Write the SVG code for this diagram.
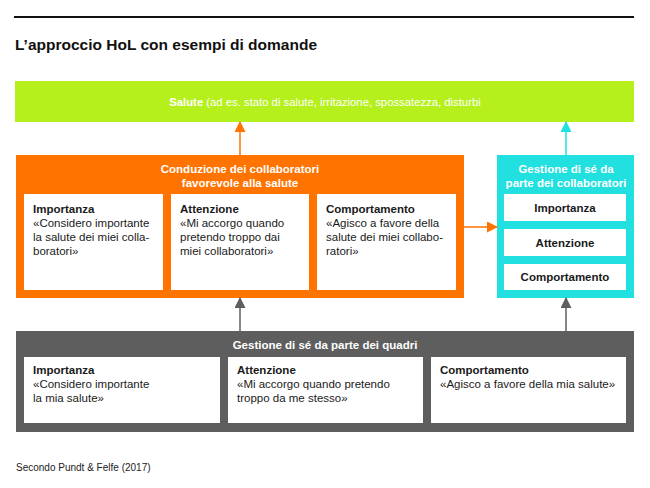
<svg xmlns="http://www.w3.org/2000/svg" width="650" height="488" viewBox="0 0 650 488">
<style>
text{font-family:"Liberation Sans",Arial,sans-serif;}
.t{font-size:11.5px;fill:#1a1a1a;}
.b{font-weight:bold;}
.w{fill:#ffffff;font-size:11.5px;}
.box{fill:#ffffff;}
</style>
<defs>
<marker id="ao" markerWidth="11" markerHeight="11" refX="10" refY="5.5" orient="auto" markerUnits="userSpaceOnUse"><path d="M0,0 L11,5.5 L0,11 z" fill="#ff7300"/></marker>
<marker id="ac" markerWidth="11" markerHeight="11" refX="10" refY="5.5" orient="auto" markerUnits="userSpaceOnUse"><path d="M0,0 L11,5.5 L0,11 z" fill="#22e0e0"/></marker>
<marker id="ag" markerWidth="11" markerHeight="11" refX="10" refY="5.5" orient="auto" markerUnits="userSpaceOnUse"><path d="M0,0 L11,5.5 L0,11 z" fill="#5e5e5e"/></marker>
</defs>
<rect width="650" height="488" fill="#ffffff"/>
<line x1="14" y1="17" x2="634" y2="17" stroke="#111" stroke-width="2"/>
<text x="15" y="50" style="font-size:15.5px;font-weight:bold;fill:#111">L’approccio HoL con esempi di domande</text>

<g id="salute">
<rect x="15" y="81" width="619" height="41" fill="#b5ef1c"/>
<text x="325" y="106" text-anchor="middle" class="w" style="font-size:11.3px"><tspan class="b">Salute</tspan> (ad es. stato di salute, irritazione, spossatezza, disturbi</text>
</g>

<g id="conduzione">
<rect x="16" y="155" width="448" height="143" fill="#ff7300"/>
<text x="240" y="173" text-anchor="middle" class="w b">Conduzione dei collaboratori</text>
<text x="240" y="187" text-anchor="middle" class="w b">favorevole alla salute</text>
<rect class="box" x="24" y="194" width="139" height="96"/>
<text class="t" x="33" y="213"><tspan class="b">Importanza</tspan><tspan x="33" dy="14">«Considero importante</tspan><tspan x="33" dy="14">la salute dei miei colla-</tspan><tspan x="33" dy="14">boratori»</tspan></text>
<rect class="box" x="171" y="194" width="138" height="96"/>
<text class="t" x="180" y="213"><tspan class="b">Attenzione</tspan><tspan x="180" dy="14">«Mi accorgo quando</tspan><tspan x="180" dy="14">pretendo troppo dai</tspan><tspan x="180" dy="14">miei collaboratori»</tspan></text>
<rect class="box" x="317" y="194" width="139" height="96"/>
<text class="t" x="326" y="213"><tspan class="b">Comportamento</tspan><tspan x="326" dy="14">«Agisco a favore della</tspan><tspan x="326" dy="14">salute dei miei collabo-</tspan><tspan x="326" dy="14">ratori»</tspan></text>
</g>

<g id="collaboratori">
<rect x="497" y="155" width="137" height="143" fill="#22e0e0"/>
<text x="566" y="173" text-anchor="middle" class="w b">Gestione di sé da</text>
<text x="566" y="187" text-anchor="middle" class="w b">parte dei collaboratori</text>
<rect class="box" x="504" y="194" width="122" height="27"/>
<text class="t b" x="565" y="212" text-anchor="middle">Importanza</text>
<rect class="box" x="504" y="229" width="122" height="27"/>
<text class="t b" x="565" y="247" text-anchor="middle">Attenzione</text>
<rect class="box" x="504" y="264" width="122" height="26"/>
<text class="t b" x="565" y="281" text-anchor="middle">Comportamento</text>
</g>

<g id="quadri">
<rect x="16" y="331" width="618" height="101" fill="#5e5e5e"/>
<text x="325" y="349" text-anchor="middle" class="w b">Gestione di sé da parte dei quadri</text>
<rect class="box" x="24" y="357" width="196" height="66"/>
<text class="t" x="33" y="374"><tspan class="b">Importanza</tspan><tspan x="33" dy="14">«Considero importante</tspan><tspan x="33" dy="14">la mia salute»</tspan></text>
<rect class="box" x="228" y="357" width="195" height="66"/>
<text class="t" x="237" y="374"><tspan class="b">Attenzione</tspan><tspan x="237" dy="14">«Mi accorgo quando pretendo</tspan><tspan x="237" dy="14">troppo da me stesso»</tspan></text>
<rect class="box" x="431" y="357" width="195" height="66"/>
<text class="t" x="440" y="374"><tspan class="b">Comportamento</tspan><tspan x="440" dy="14">«Agisco a favore della mia salute»</tspan></text>
</g>

<g id="connectors" fill="none" stroke-width="1.5">
<line x1="240" y1="155" x2="240" y2="122" stroke="#ff7300" marker-end="url(#ao)"/>
<line x1="566" y1="155" x2="566" y2="122" stroke="#22e0e0" marker-end="url(#ac)"/>
<line x1="464" y1="227" x2="497" y2="227" stroke="#ff7300" marker-end="url(#ao)"/>
<line x1="240" y1="331" x2="240" y2="298" stroke="#5e5e5e" marker-end="url(#ag)"/>
<line x1="566" y1="331" x2="566" y2="298" stroke="#5e5e5e" marker-end="url(#ag)"/>
</g>

<text x="16" y="471" style="font-size:10px;fill:#222">Secondo Pundt &amp; Felfe (2017)</text>
</svg>
